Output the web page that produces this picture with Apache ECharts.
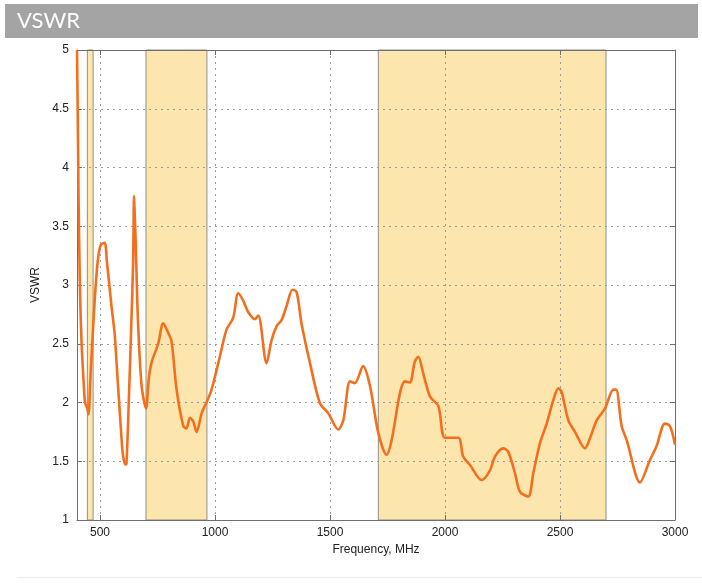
<!DOCTYPE html>
<html>
<head>
<meta charset="utf-8">
<script src="https://cdn.jsdelivr.net/npm/echarts@6/dist/echarts.min.js"></script>
<style>
html,body{margin:0;padding:0;background:#fff;}
#c{width:702px;height:583px;}
</style>
</head>
<body>
<div id="c"></div>
<script>
const title = 'VSWR';
const xName = 'Frequency, MHz';
const yName = 'VSWR';
const xTicks = [500, 1000, 1500, 2000, 2500, 3000];
const yTicks = [1, 1.5, 2, 2.5, 3, 3.5, 4, 4.5, 5];
const bands = [[445, 470], [700, 965], [1710, 2700]];
const freq = [400, 403, 405, 407, 410, 414, 420, 428, 435, 445, 450, 458, 467, 478, 490, 503, 520, 530, 550, 563, 572, 593, 600, 610, 615, 625, 635, 644, 648, 651, 655, 665, 681, 700,
  712, 724, 753, 775, 795, 811, 833, 862, 876, 891, 905, 920, 942, 963, 985, 1021, 1050, 1079, 1101, 1122, 1144, 1173, 1188, 1224, 1246, 1268, 1289, 1311, 1337, 1355, 1376, 1413, 1456, 1492, 1536, 1558, 1587, 1608, 1644, 1674, 1710,
  1746, 1768, 1804, 1826, 1847, 1869, 1884, 1905, 1935, 1971, 2000, 2058, 2079, 2108, 2159, 2195, 2217, 2253, 2275, 2304, 2326, 2362, 2384, 2413, 2442, 2471, 2493, 2507, 2536, 2565, 2609, 2631, 2660, 2696, 2732, 2744, 2768, 2790, 2848, 2891, 2920, 2956, 2978, 3000];
const vswr = [5.0, 4.5, 4.1, 3.7, 3.3, 2.87, 2.5, 2.2, 2.0, 1.95, 1.9, 2.2, 2.53, 2.9, 3.2, 3.34, 3.36, 3.2, 2.82, 2.6, 2.34, 1.71, 1.55, 1.47, 1.48, 2.0, 2.6, 3.19, 3.76, 3.6, 3.38, 2.7, 2.14, 1.95,
  2.2, 2.34, 2.5, 2.675, 2.6, 2.52, 2.11, 1.80, 1.78, 1.87, 1.84, 1.75, 1.91, 2.0, 2.11, 2.39, 2.62, 2.72, 2.93, 2.87, 2.77, 2.71, 2.74, 2.335, 2.53, 2.65, 2.70, 2.82, 2.96, 2.94, 2.675, 2.335, 1.995, 1.91, 1.77, 1.85, 2.18, 2.165, 2.31, 2.14, 1.74,
  1.555, 1.68, 2.08, 2.18, 2.17, 2.35, 2.39, 2.25, 2.05, 1.97, 1.70, 1.70, 1.54, 1.47, 1.34, 1.42, 1.54, 1.61, 1.58, 1.40, 1.24, 1.20, 1.40, 1.655, 1.82, 2.02, 2.12, 2.09, 1.85, 1.75, 1.61, 1.70, 1.85, 1.95, 2.11, 2.11, 1.80, 1.68, 1.32, 1.51, 1.63, 1.82, 1.80, 1.64];

const points = freq.map((f, i) => [f, vswr[i]]);
const chart = echarts.init(document.getElementById('c'), null, {renderer: 'canvas'});
const frameColor = '#6e6e6e';
const gridLine = {show: true, lineStyle: {type: [2, 4], color: '#9a9a9a', width: 1}};
const fontFamily = 'Liberation Sans, Arial, sans-serif';

chart.setOption({
  animation: false,
  backgroundColor: '#fff',
  graphic: [
    {type: 'rect', shape: {x: 5, y: 4, width: 693, height: 34}, style: {fill: '#a4a4a4'}, z: 0},
    {type: 'text', left: 17, top: 10, style: {text: title, fill: '#fff', font: '22px Lato, "DejaVu Sans", sans-serif', letterSpacing: 4}},
    {type: 'rect', shape: {x: 17, y: 577, width: 685, height: 1}, style: {fill: '#ececec'}}
  ],
  grid: {left: 77, right: 27, top: 50, bottom: 63, containLabel: false},
  xAxis: [
    {
      type: 'value', min: 400, max: 3000, z: 3,
      name: xName, nameLocation: 'middle', nameGap: 24,
      nameTextStyle: {color: '#222', fontSize: 12, fontFamily: fontFamily},
      axisLine: {show: true, lineStyle: {color: frameColor, width: 1}},
      axisTick: {show: true, inside: true, length: 5, customValues: xTicks, lineStyle: {color: frameColor}},
      axisLabel: {customValues: xTicks, formatter: v => String(v), color: '#222', fontSize: 12, fontFamily: fontFamily, margin: 7},
      splitLine: gridLine
    },
    {
      type: 'value', min: 400, max: 3000, position: 'top', z: 3,
      axisLine: {show: true, lineStyle: {color: frameColor, width: 1}},
      axisTick: {show: true, inside: true, length: 5, customValues: xTicks, lineStyle: {color: frameColor}},
      axisLabel: {show: false, customValues: xTicks},
      splitLine: {show: false}
    }
  ],
  yAxis: [
    {
      type: 'value', min: 1, max: 5, interval: 0.5, z: 3,
      name: yName, nameLocation: 'middle', nameGap: 33,
      nameTextStyle: {color: '#222', fontSize: 12, fontFamily: fontFamily},
      axisLine: {show: true, lineStyle: {color: frameColor, width: 1}},
      axisTick: {show: true, inside: true, length: 5, lineStyle: {color: frameColor}},
      axisLabel: {color: '#222', fontSize: 12, fontFamily: fontFamily, margin: 8},
      splitLine: gridLine
    },
    {
      type: 'value', min: 1, max: 5, interval: 0.5, position: 'right', z: 3,
      axisLine: {show: true, lineStyle: {color: frameColor, width: 1}},
      axisTick: {show: true, inside: true, length: 5, lineStyle: {color: frameColor}},
      axisLabel: {show: false},
      splitLine: {show: false}
    }
  ],
  series: [
    {
      type: 'line', data: [], z: 1, silent: true,
      markArea: {
        silent: true,
        itemStyle: {color: '#fde6ad', borderColor: '#8f8f86', borderWidth: 1},
        data: bands.map(b => [{xAxis: b[0]}, {xAxis: b[1]}])
      }
    },
    {
      type: 'line', data: points, z: 5, symbol: 'none',
      smooth: 0.3, clip: true,
      lineStyle: {color: '#f36f1d', width: 2.6}
    }
  ]
});
</script>
</body>
</html>
